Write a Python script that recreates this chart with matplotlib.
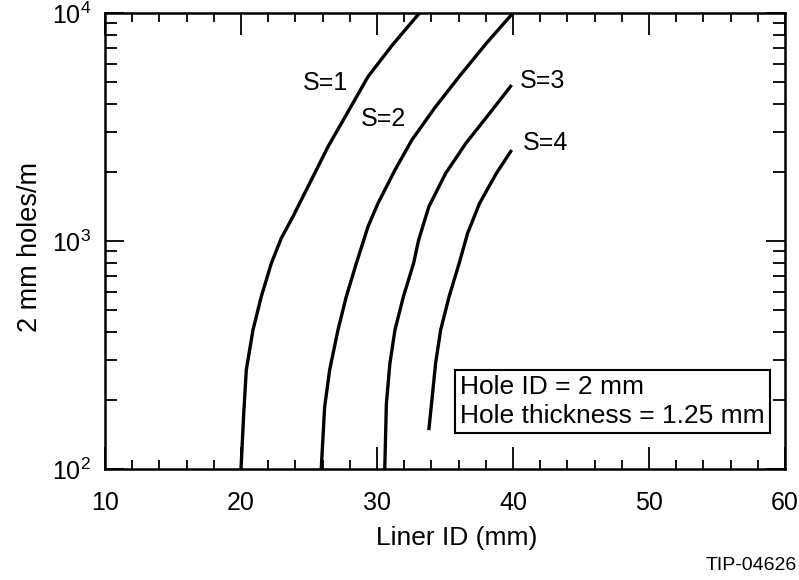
import matplotlib
matplotlib.use("Agg")
import matplotlib.pyplot as plt
from matplotlib.ticker import MultipleLocator, LogLocator, NullFormatter

plt.rcParams['font.family'] = ['Liberation Sans', 'DejaVu Sans']
plt.rcParams['mathtext.fontset'] = 'custom'
plt.rcParams['mathtext.rm'] = 'Liberation Sans'

# Liner ID (mm) vs holes per metre
s1_x = [20.0, 20.2, 20.39, 20.88, 21.49, 22.23, 22.96, 23.82, 24.68, 25.42, 26.40, 27.38, 28.36, 29.34, 31.19, 33.13]
s1_y = [100, 175, 272, 407, 570, 798, 1028, 1279, 1619, 1982, 2594, 3280, 4150, 5260, 7311, 10000]

s2_x = [25.90, 26.15, 26.52, 27.13, 27.74, 28.48, 29.34, 30.07, 31.32, 32.56, 34.31, 36.04, 38.04, 40.0]
s2_y = [100, 187, 272, 407, 570, 798, 1156, 1462, 2046, 2773, 3882, 5260, 7362, 10000]

s3_x = [30.57, 30.69, 30.95, 31.32, 31.94, 32.69, 33.06, 33.81, 35.05, 36.54, 38.28, 39.90]
s3_y = [100, 194, 291, 407, 570, 798, 1009, 1413, 1982, 2685, 3631, 4831]

s4_x = [33.81, 34.06, 34.31, 34.68, 35.30, 36.04, 36.66, 37.54, 38.78, 39.90]
s4_y = [148, 207, 291, 407, 570, 798, 1081, 1462, 1982, 2506]

curve_labels = ['S=1', 'S=2', 'S=3', 'S=4']
label_x = [26.2, 30.5, 42.2, 42.4]
label_y = [4930, 3428, 5035, 2692]

fig = plt.figure(figsize=(7.99, 5.80), dpi=100)
ax = fig.add_axes([0.1314, 0.1914, 0.8511, 0.7862])

for xs, ys in [(s1_x, s1_y), (s2_x, s2_y), (s3_x, s3_y), (s4_x, s4_y)]:
    ax.plot(xs, ys, color='black', lw=2.4, solid_capstyle='butt', solid_joinstyle='round')

for lab, lx, ly in zip(curve_labels, label_x, label_y):
    ax.text(lx, ly, lab, fontsize=18, ha='center', va='center')

ax.set_yscale('log')
ax.set_xlim(10, 60)
ax.set_ylim(100, 10000)

ax.xaxis.set_major_locator(MultipleLocator(10))
ax.xaxis.set_minor_locator(MultipleLocator(2))
ax.yaxis.set_major_locator(LogLocator(base=10))
ax.yaxis.set_minor_locator(LogLocator(base=10, subs=range(2, 10)))
ax.yaxis.set_minor_formatter(NullFormatter())

ax.tick_params(which='both', direction='in', top=True, right=True, width=1.3, colors='black')
ax.tick_params(axis='x', which='major', length=16, pad=16, labelsize=18)
ax.tick_params(axis='x', which='minor', length=6.5)
ax.tick_params(axis='y', which='major', length=14, pad=10, labelsize=18)
ax.tick_params(axis='y', which='minor', length=8.5)

for sp in ax.spines.values():
    sp.set_linewidth(1.8)

fig.text(457 / 799, 1 - 538 / 580, 'Liner ID (mm)', fontsize=19, ha='center', va='center')
fig.text(30 / 799, 1 - 247 / 580, '2 mm holes/m', fontsize=19.5, ha='center', va='center', rotation=90)
fig.text(797 / 799, 1 - 565 / 580, 'TIP-04626', fontsize=14, ha='right', va='center')

ax.text(0.522, 0.148, 'Hole ID = 2 mm\nHole thickness = 1.25 mm', transform=ax.transAxes,
        fontsize=19, ha='left', va='center', linespacing=1.25,
        bbox=dict(boxstyle='square,pad=0.2', fc='white', ec='black', lw=1.5))

fig.savefig('out.png', dpi=100)
